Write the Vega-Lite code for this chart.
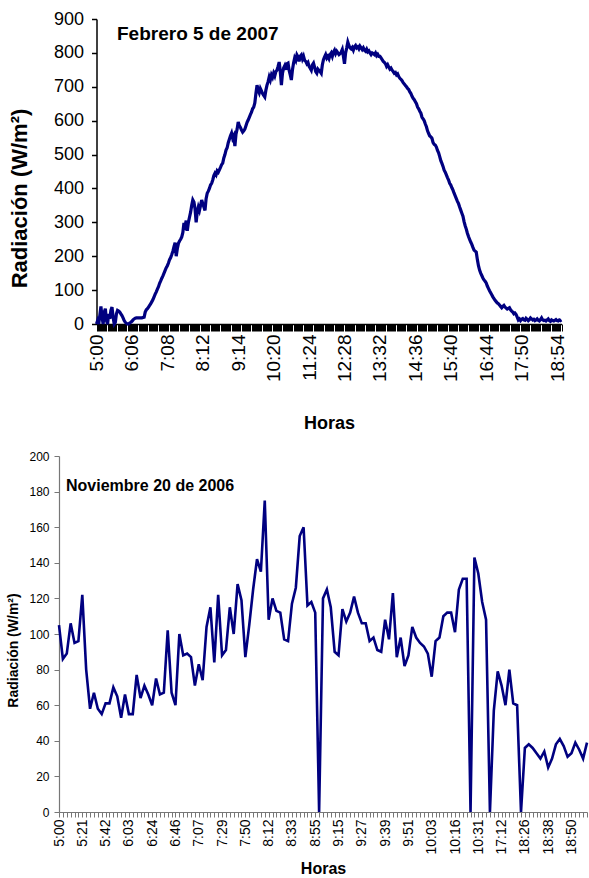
{
"$schema": "https://vega.github.io/schema/vega-lite/v6.json",
"background": "white",
"padding": {"left": 6, "top": 10, "right": 0, "bottom": 0},
"columns": 1,
"align": "none",
"spacing": 17,
"config": {"view": {"stroke": null}, "font": "Liberation Sans", "axis": {"grid": false, "labelColor": "black", "titleColor": "black"}},
"datasets": {
"feb": [
{"hora":"5:00","rad":0},{"hora":"5:02","rad":10},{"hora":"5:04","rad":0},{"hora":"5:06","rad":25},{"hora":"5:08","rad":52},{"hora":"5:10","rad":20},{"hora":"5:12","rad":0},{"hora":"5:14","rad":35},{"hora":"5:16","rad":45},{"hora":"5:18","rad":10},
{"hora":"5:20","rad":0},{"hora":"5:22","rad":30},{"hora":"5:24","rad":15},{"hora":"5:26","rad":40},{"hora":"5:28","rad":50},{"hora":"5:30","rad":20},{"hora":"5:32","rad":0},{"hora":"5:34","rad":5},{"hora":"5:36","rad":30},{"hora":"5:38","rad":40},
{"hora":"5:40","rad":38},{"hora":"5:42","rad":35},{"hora":"5:44","rad":30},{"hora":"5:46","rad":25},{"hora":"5:48","rad":18},{"hora":"5:50","rad":10},{"hora":"5:52","rad":5},{"hora":"5:54","rad":2},{"hora":"5:56","rad":0},{"hora":"5:58","rad":0},
{"hora":"6:00","rad":3},{"hora":"6:05","rad":5},
{"hora":"6:06","rad":8},{"hora":"6:08","rad":12},{"hora":"6:10","rad":15},{"hora":"6:12","rad":17},{"hora":"6:14","rad":18},{"hora":"6:16","rad":18},{"hora":"6:18","rad":18},{"hora":"6:20","rad":18},{"hora":"6:22","rad":18},{"hora":"6:24","rad":18},
{"hora":"6:26","rad":19},{"hora":"6:28","rad":20},{"hora":"6:30","rad":35},{"hora":"6:32","rad":42},{"hora":"6:34","rad":45},{"hora":"6:36","rad":50},{"hora":"6:38","rad":55},{"hora":"6:40","rad":60},{"hora":"6:42","rad":66},{"hora":"6:44","rad":72},
{"hora":"6:46","rad":80},{"hora":"6:48","rad":88},{"hora":"6:50","rad":95},{"hora":"6:52","rad":103},{"hora":"6:54","rad":110},{"hora":"6:56","rad":120},{"hora":"6:58","rad":127},{"hora":"7:00","rad":135},{"hora":"7:02","rad":142},{"hora":"7:04","rad":150},
{"hora":"7:06","rad":158},{"hora":"7:07","rad":166},
{"hora":"7:08","rad":172},{"hora":"7:10","rad":180},{"hora":"7:12","rad":190},{"hora":"7:14","rad":196},{"hora":"7:16","rad":205},{"hora":"7:18","rad":215},{"hora":"7:20","rad":228},{"hora":"7:22","rad":240},{"hora":"7:24","rad":200},{"hora":"7:26","rad":222},
{"hora":"7:28","rad":238},{"hora":"7:30","rad":245},{"hora":"7:32","rad":250},{"hora":"7:34","rad":257},{"hora":"7:36","rad":270},{"hora":"7:38","rad":298},{"hora":"7:40","rad":290},{"hora":"7:42","rad":305},{"hora":"7:44","rad":275},{"hora":"7:46","rad":300},
{"hora":"7:48","rad":315},{"hora":"7:50","rad":330},{"hora":"7:52","rad":350},{"hora":"7:54","rad":366},{"hora":"7:56","rad":360},{"hora":"7:58","rad":340},{"hora":"8:00","rad":300},{"hora":"8:02","rad":330},{"hora":"8:04","rad":345},{"hora":"8:06","rad":335},
{"hora":"8:08","rad":350},{"hora":"8:11","rad":366},
{"hora":"8:12","rad":355},{"hora":"8:14","rad":345},{"hora":"8:16","rad":335},{"hora":"8:18","rad":370},{"hora":"8:20","rad":386},{"hora":"8:22","rad":392},{"hora":"8:24","rad":400},{"hora":"8:26","rad":410},{"hora":"8:28","rad":415},{"hora":"8:30","rad":425},
{"hora":"8:32","rad":438},{"hora":"8:34","rad":445},{"hora":"8:36","rad":440},{"hora":"8:38","rad":452},{"hora":"8:40","rad":448},{"hora":"8:42","rad":455},{"hora":"8:44","rad":462},{"hora":"8:46","rad":470},{"hora":"8:48","rad":475},{"hora":"8:50","rad":490},
{"hora":"8:52","rad":500},{"hora":"8:54","rad":513},{"hora":"8:56","rad":520},{"hora":"8:58","rad":535},{"hora":"9:00","rad":545},{"hora":"9:02","rad":555},{"hora":"9:04","rad":563},{"hora":"9:06","rad":548},{"hora":"9:08","rad":555},{"hora":"9:10","rad":525},
{"hora":"9:12","rad":560},{"hora":"9:13","rad":575},
{"hora":"9:14","rad":596},{"hora":"9:16","rad":585},{"hora":"9:18","rad":580},{"hora":"9:20","rad":572},{"hora":"9:22","rad":566},{"hora":"9:24","rad":570},{"hora":"9:26","rad":575},{"hora":"9:28","rad":585},{"hora":"9:30","rad":595},{"hora":"9:32","rad":602},
{"hora":"9:34","rad":610},{"hora":"9:36","rad":618},{"hora":"9:38","rad":625},{"hora":"9:40","rad":635},{"hora":"9:42","rad":640},{"hora":"9:44","rad":652},{"hora":"9:46","rad":680},{"hora":"9:48","rad":705},{"hora":"9:50","rad":690},{"hora":"9:52","rad":682},
{"hora":"9:54","rad":695},{"hora":"9:56","rad":688},{"hora":"9:58","rad":680},{"hora":"10:00","rad":675},{"hora":"10:02","rad":670},{"hora":"10:04","rad":690},{"hora":"10:06","rad":705},{"hora":"10:08","rad":715},{"hora":"10:10","rad":729},{"hora":"10:12","rad":720},
{"hora":"10:14","rad":735},{"hora":"10:19","rad":728},
{"hora":"10:20","rad":740},{"hora":"10:22","rad":732},{"hora":"10:24","rad":745},{"hora":"10:26","rad":749},{"hora":"10:28","rad":760},{"hora":"10:30","rad":773},{"hora":"10:32","rad":745},{"hora":"10:34","rad":705},{"hora":"10:36","rad":740},{"hora":"10:38","rad":755},
{"hora":"10:40","rad":762},{"hora":"10:42","rad":750},{"hora":"10:44","rad":768},{"hora":"10:46","rad":770},{"hora":"10:48","rad":748},{"hora":"10:50","rad":735},{"hora":"10:52","rad":720},{"hora":"10:54","rad":750},{"hora":"10:56","rad":770},{"hora":"10:58","rad":785},
{"hora":"11:00","rad":778},{"hora":"11:02","rad":794},{"hora":"11:04","rad":788},{"hora":"11:06","rad":775},{"hora":"11:08","rad":790},{"hora":"11:10","rad":794},{"hora":"11:12","rad":782},{"hora":"11:14","rad":790},{"hora":"11:16","rad":778},{"hora":"11:18","rad":775},
{"hora":"11:20","rad":768},{"hora":"11:23","rad":772},
{"hora":"11:24","rad":760},{"hora":"11:26","rad":755},{"hora":"11:28","rad":749},{"hora":"11:30","rad":765},{"hora":"11:32","rad":770},{"hora":"11:34","rad":758},{"hora":"11:36","rad":745},{"hora":"11:38","rad":740},{"hora":"11:40","rad":752},{"hora":"11:42","rad":748},
{"hora":"11:44","rad":745},{"hora":"11:46","rad":740},{"hora":"11:48","rad":765},{"hora":"11:50","rad":780},{"hora":"11:52","rad":788},{"hora":"11:54","rad":795},{"hora":"11:56","rad":785},{"hora":"11:58","rad":790},{"hora":"12:00","rad":783},{"hora":"12:02","rad":795},
{"hora":"12:04","rad":800},{"hora":"12:06","rad":790},{"hora":"12:08","rad":802},{"hora":"12:10","rad":808},{"hora":"12:12","rad":798},{"hora":"12:14","rad":805},{"hora":"12:16","rad":800},{"hora":"12:18","rad":795},{"hora":"12:20","rad":798},{"hora":"12:22","rad":802},
{"hora":"12:24","rad":810},{"hora":"12:27","rad":790},
{"hora":"12:28","rad":768},{"hora":"12:30","rad":800},{"hora":"12:32","rad":815},{"hora":"12:34","rad":832},{"hora":"12:36","rad":822},{"hora":"12:38","rad":815},{"hora":"12:40","rad":812},{"hora":"12:42","rad":816},{"hora":"12:44","rad":808},{"hora":"12:46","rad":818},
{"hora":"12:48","rad":822},{"hora":"12:50","rad":815},{"hora":"12:52","rad":818},{"hora":"12:54","rad":812},{"hora":"12:56","rad":820},{"hora":"12:58","rad":815},{"hora":"13:00","rad":810},{"hora":"13:02","rad":815},{"hora":"13:04","rad":808},{"hora":"13:06","rad":805},
{"hora":"13:08","rad":811},{"hora":"13:10","rad":803},{"hora":"13:12","rad":806},{"hora":"13:14","rad":800},{"hora":"13:16","rad":795},{"hora":"13:18","rad":800},{"hora":"13:20","rad":798},{"hora":"13:22","rad":795},{"hora":"13:24","rad":800},{"hora":"13:26","rad":792},
{"hora":"13:28","rad":796},{"hora":"13:31","rad":790},
{"hora":"13:32","rad":790},{"hora":"13:34","rad":785},{"hora":"13:36","rad":780},{"hora":"13:38","rad":775},{"hora":"13:40","rad":772},{"hora":"13:42","rad":768},{"hora":"13:44","rad":760},{"hora":"13:46","rad":765},{"hora":"13:48","rad":758},{"hora":"13:50","rad":752},
{"hora":"13:52","rad":755},{"hora":"13:54","rad":749},{"hora":"13:56","rad":745},{"hora":"13:58","rad":740},{"hora":"14:00","rad":742},{"hora":"14:02","rad":735},{"hora":"14:04","rad":738},{"hora":"14:06","rad":730},{"hora":"14:08","rad":725},{"hora":"14:10","rad":722},
{"hora":"14:12","rad":718},{"hora":"14:14","rad":712},{"hora":"14:16","rad":708},{"hora":"14:18","rad":704},{"hora":"14:20","rad":700},{"hora":"14:22","rad":695},{"hora":"14:24","rad":692},{"hora":"14:26","rad":685},{"hora":"14:28","rad":680},{"hora":"14:30","rad":672},
{"hora":"14:32","rad":666},{"hora":"14:35","rad":662},
{"hora":"14:36","rad":656},{"hora":"14:38","rad":650},{"hora":"14:40","rad":640},{"hora":"14:42","rad":635},{"hora":"14:44","rad":628},{"hora":"14:46","rad":622},{"hora":"14:48","rad":610},{"hora":"14:50","rad":605},{"hora":"14:52","rad":600},{"hora":"14:54","rad":590},
{"hora":"14:56","rad":582},{"hora":"14:58","rad":570},{"hora":"15:00","rad":562},{"hora":"15:02","rad":555},{"hora":"15:04","rad":552},{"hora":"15:06","rad":548},{"hora":"15:08","rad":535},{"hora":"15:10","rad":530},{"hora":"15:12","rad":528},{"hora":"15:14","rad":522},
{"hora":"15:16","rad":512},{"hora":"15:18","rad":505},{"hora":"15:20","rad":494},{"hora":"15:22","rad":482},{"hora":"15:24","rad":474},{"hora":"15:26","rad":465},{"hora":"15:28","rad":454},{"hora":"15:30","rad":448},{"hora":"15:32","rad":440},{"hora":"15:34","rad":432},
{"hora":"15:36","rad":425},{"hora":"15:39","rad":415},
{"hora":"15:40","rad":410},{"hora":"15:42","rad":402},{"hora":"15:44","rad":395},{"hora":"15:46","rad":386},{"hora":"15:48","rad":378},{"hora":"15:50","rad":370},{"hora":"15:52","rad":362},{"hora":"15:54","rad":355},{"hora":"15:56","rad":345},{"hora":"15:58","rad":336},
{"hora":"16:00","rad":327},{"hora":"16:02","rad":318},{"hora":"16:04","rad":302},{"hora":"16:06","rad":290},{"hora":"16:08","rad":280},{"hora":"16:10","rad":268},{"hora":"16:12","rad":258},{"hora":"16:14","rad":250},{"hora":"16:16","rad":242},{"hora":"16:18","rad":235},
{"hora":"16:20","rad":226},{"hora":"16:22","rad":218},{"hora":"16:24","rad":215},{"hora":"16:26","rad":212},{"hora":"16:28","rad":190},{"hora":"16:30","rad":172},{"hora":"16:32","rad":159},{"hora":"16:34","rad":150},{"hora":"16:36","rad":143},{"hora":"16:38","rad":136},
{"hora":"16:40","rad":130},{"hora":"16:43","rad":126},
{"hora":"16:44","rad":121},{"hora":"16:46","rad":112},{"hora":"16:48","rad":105},{"hora":"16:50","rad":98},{"hora":"16:52","rad":92},{"hora":"16:54","rad":86},{"hora":"16:56","rad":80},{"hora":"16:58","rad":75},{"hora":"17:00","rad":70},{"hora":"17:02","rad":66},
{"hora":"17:04","rad":62},{"hora":"17:06","rad":60},{"hora":"17:08","rad":56},{"hora":"17:10","rad":52},{"hora":"17:12","rad":48},{"hora":"17:14","rad":52},{"hora":"17:16","rad":55},{"hora":"17:18","rad":50},{"hora":"17:20","rad":47},{"hora":"17:22","rad":44},
{"hora":"17:24","rad":46},{"hora":"17:26","rad":48},{"hora":"17:28","rad":42},{"hora":"17:30","rad":38},{"hora":"17:32","rad":35},{"hora":"17:34","rad":30},{"hora":"17:36","rad":32},{"hora":"17:38","rad":28},{"hora":"17:40","rad":20},{"hora":"17:42","rad":12},
{"hora":"17:44","rad":15},{"hora":"17:49","rad":10},
{"hora":"17:50","rad":14},{"hora":"17:52","rad":16},{"hora":"17:54","rad":12},{"hora":"17:56","rad":11},{"hora":"17:58","rad":17},{"hora":"18:00","rad":14},{"hora":"18:02","rad":10},{"hora":"18:04","rad":13},{"hora":"18:06","rad":18},{"hora":"18:08","rad":15},
{"hora":"18:10","rad":12},{"hora":"18:12","rad":14},{"hora":"18:14","rad":10},{"hora":"18:16","rad":12},{"hora":"18:18","rad":15},{"hora":"18:20","rad":11},{"hora":"18:22","rad":9},{"hora":"18:24","rad":13},{"hora":"18:26","rad":18},{"hora":"18:28","rad":12},
{"hora":"18:30","rad":10},{"hora":"18:32","rad":11},{"hora":"18:34","rad":9},{"hora":"18:36","rad":12},{"hora":"18:38","rad":15},{"hora":"18:40","rad":10},{"hora":"18:42","rad":8},{"hora":"18:44","rad":12},{"hora":"18:46","rad":10},{"hora":"18:48","rad":9},
{"hora":"18:50","rad":11},{"hora":"18:53","rad":13},
{"hora":"18:54","rad":10},{"hora":"18:56","rad":9},{"hora":"18:58","rad":12},{"hora":"19:00","rad":10},{"hora":"19:02","rad":12}
],
"nov": [
{"hora":"5:00","rad":105},{"hora":"5:03","rad":86},{"hora":"5:07","rad":89},{"hora":"5:10","rad":106},{"hora":"5:14","rad":95},{"hora":"5:17","rad":96},
{"hora":"5:21","rad":122},{"hora":"5:24","rad":80},{"hora":"5:28","rad":58},{"hora":"5:31","rad":67},{"hora":"5:35","rad":58},{"hora":"5:38","rad":55},
{"hora":"5:42","rad":61},{"hora":"5:45","rad":61},{"hora":"5:49","rad":70},{"hora":"5:52","rad":65},{"hora":"5:56","rad":53},{"hora":"5:59","rad":66},
{"hora":"6:03","rad":55},{"hora":"6:06","rad":55},{"hora":"6:10","rad":77},{"hora":"6:13","rad":64},{"hora":"6:17","rad":71},{"hora":"6:20","rad":66},
{"hora":"6:24","rad":60},{"hora":"6:28","rad":75},{"hora":"6:31","rad":66},{"hora":"6:35","rad":67},{"hora":"6:38","rad":102},{"hora":"6:42","rad":67},
{"hora":"6:46","rad":60},{"hora":"6:49","rad":100},{"hora":"6:53","rad":88},{"hora":"6:56","rad":89},{"hora":"7:00","rad":87},{"hora":"7:03","rad":71},
{"hora":"7:07","rad":83},{"hora":"7:11","rad":74},{"hora":"7:14","rad":104},{"hora":"7:18","rad":115},{"hora":"7:21","rad":84},{"hora":"7:25","rad":122},
{"hora":"7:29","rad":88},{"hora":"7:32","rad":91},{"hora":"7:36","rad":115},{"hora":"7:39","rad":100},{"hora":"7:43","rad":128},{"hora":"7:46","rad":119},
{"hora":"7:50","rad":87},{"hora":"7:54","rad":105},{"hora":"7:57","rad":125},{"hora":"8:01","rad":142},{"hora":"8:04","rad":135},{"hora":"8:08","rad":175},
{"hora":"8:12","rad":108},{"hora":"8:15","rad":120},{"hora":"8:19","rad":113},{"hora":"8:22","rad":112},{"hora":"8:26","rad":97},{"hora":"8:29","rad":96},
{"hora":"8:33","rad":117},{"hora":"8:37","rad":126},{"hora":"8:40","rad":155},{"hora":"8:44","rad":160},{"hora":"8:47","rad":116},{"hora":"8:51","rad":118},
{"hora":"8:55","rad":112},{"hora":"8:58","rad":0},{"hora":"9:02","rad":120},{"hora":"9:05","rad":125},{"hora":"9:08","rad":115},{"hora":"9:12","rad":90},
{"hora":"9:15","rad":88},{"hora":"9:17","rad":114},{"hora":"9:19","rad":107},{"hora":"9:21","rad":112},{"hora":"9:23","rad":121},{"hora":"9:25","rad":112},
{"hora":"9:27","rad":106},{"hora":"9:29","rad":106},{"hora":"9:31","rad":96},{"hora":"9:33","rad":98},{"hora":"9:35","rad":91},{"hora":"9:37","rad":90},
{"hora":"9:39","rad":108},{"hora":"9:41","rad":97},{"hora":"9:43","rad":123},{"hora":"9:45","rad":87},{"hora":"9:47","rad":98},{"hora":"9:49","rad":82},
{"hora":"9:51","rad":88},{"hora":"9:53","rad":104},{"hora":"9:55","rad":98},{"hora":"9:57","rad":95},{"hora":"9:59","rad":93},{"hora":"10:01","rad":89},
{"hora":"10:03","rad":76},{"hora":"10:05","rad":96},{"hora":"10:07","rad":98},{"hora":"10:10","rad":110},{"hora":"10:12","rad":112},{"hora":"10:14","rad":112},
{"hora":"10:16","rad":101},{"hora":"10:18","rad":125},{"hora":"10:21","rad":131},{"hora":"10:23","rad":131},{"hora":"10:26","rad":0},{"hora":"10:28","rad":143},
{"hora":"10:31","rad":134},{"hora":"10:33","rad":118},{"hora":"10:36","rad":108},{"hora":"10:38","rad":0},{"hora":"17:05","rad":57},{"hora":"17:09","rad":79},
{"hora":"17:12","rad":71},{"hora":"17:15","rad":60},{"hora":"17:18","rad":80},{"hora":"18:15","rad":61},{"hora":"18:19","rad":60},{"hora":"18:22","rad":0},
{"hora":"18:26","rad":36},{"hora":"18:28","rad":38},{"hora":"18:30","rad":36},{"hora":"18:32","rad":33},{"hora":"18:34","rad":30},{"hora":"18:36","rad":34},
{"hora":"18:38","rad":25},{"hora":"18:40","rad":30},{"hora":"18:42","rad":38},{"hora":"18:44","rad":41},{"hora":"18:46","rad":37},{"hora":"18:48","rad":31},
{"hora":"18:50","rad":33},{"hora":"18:52","rad":39},{"hora":"18:54","rad":35},{"hora":"18:56","rad":30},{"hora":"18:58","rad":39}
]
},
"concat": [
{
"width": 503,
"height": 305,
"data": {"name": "feb"},
"title": {"text": "Febrero 5 de 2007", "anchor": "start", "frame": "group", "orient": "top", "offset": -34, "dx": 58, "fontSize": 19, "fontWeight": "bold", "color": "black", "font": "Liberation Sans"},
"mark": {"type": "line", "color": "#000080", "strokeWidth": 3.2},
"encoding": {
"x": {"field": "hora", "type": "ordinal", "sort": null, "scale": {"type": "point", "padding": 0, "range": [37.5, 502.5]},
"axis": {"title": "Horas", "titleFontSize": 18, "titleFontWeight": "bold", "titlePadding": 33, "labelAngle": -90, "labelFontSize": 19, "labelOverlap": false, "labelPadding": 3, "tickSize": 7, "tickColor": "black", "tickWidth": 1, "domainColor": "black", "domainWidth": 1.5,
"labelExpr": "indexof(['5:00','6:06','7:08','8:12','9:14','10:20','11:24','12:28','13:32','14:36','15:40','16:44','17:50','18:54'], datum.value) >= 0 ? datum.value : ''"}},
"y": {"field": "rad", "type": "quantitative", "scale": {"domain": [0, 900]},
"axis": {"title": "Radiación (W/m²)", "offset": -37.5, "titleFontSize": 22, "titleFontWeight": "bold", "titlePadding": 22, "titleY": 179, "values": [0,100,200,300,400,500,600,700,800,900], "labelFontSize": 18, "labelPadding": 8, "tickSize": 5, "tickColor": "black", "tickWidth": 1.5, "domainColor": "black", "domainWidth": 1.5}}
}
},
{
"width": 528,
"height": 356,
"data": {"name": "nov"},
"title": {"text": "Noviembre 20 de 2006", "anchor": "start", "frame": "group", "orient": "top", "offset": -44, "dx": 7, "fontSize": 16, "fontWeight": "bold", "color": "black", "font": "Liberation Sans"},
"mark": {"type": "line", "color": "#000080", "strokeWidth": 2.6},
"encoding": {
"x": {"field": "hora", "type": "ordinal", "sort": null, "scale": {"type": "point", "padding": 0},
"axis": {"title": "Horas", "titleFontSize": 16, "titleFontWeight": "bold", "titlePadding": 6, "labelAngle": -90, "labelFontSize": 14, "labelOverlap": false, "labelPadding": 2, "tickSize": 5, "tickColor": "#777777", "tickWidth": 1, "domainColor": "#777777", "domainWidth": 1.2,
"labelExpr": "indexof(['5:00','5:21','5:42','6:03','6:24','6:46','7:07','7:29','7:50','8:12','8:33','8:55','9:15','9:27','9:39','9:51','10:03','10:16','10:31','17:12','18:26','18:38','18:50'], datum.value) >= 0 ? datum.value : ''"}},
"y": {"field": "rad", "type": "quantitative", "scale": {"domain": [0, 200]},
"axis": {"title": "Radiación (W/m²)", "titleFontSize": 14, "titleFontWeight": "bold", "titlePadding": 8, "titleY": 194, "values": [0,20,40,60,80,100,120,140,160,180,200], "labelFontSize": 12, "labelPadding": 5, "tickSize": 5, "tickColor": "#777777", "tickWidth": 1, "domainColor": "#777777", "domainWidth": 1.2}}
}
}
]
}
